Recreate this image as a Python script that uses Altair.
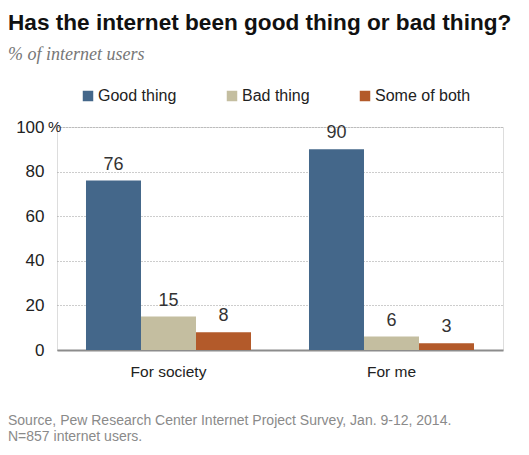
import altair as alt
import pandas as pd

categories = ["For society", "For me"]
responses = ["Good thing", "Bad thing", "Some of both"]
good_vals = [76, 90]
bad_vals = [15, 6]
both_vals = [8, 3]
colors = ["#44678a", "#c4bea0", "#b35a2a"]

title_text = "Has the internet been good thing or bad thing?"
subtitle_text = "% of internet users"
source_lines = ["Source, Pew Research Center Internet Project Survey, Jan. 9-12, 2014.",
                "N=857 internet users."]

rows = []
for i, c in enumerate(categories):
    for r, vals in zip(responses, [good_vals, bad_vals, both_vals]):
        rows.append({"category": c, "response": r, "value": vals[i]})
df = pd.DataFrame(rows)

W, H = 446, 223

x = alt.X("category:N", sort=categories, title=None,
          scale=alt.Scale(paddingInner=0, paddingOuter=0),
          axis=alt.Axis(labelAngle=0, labelFontSize=15.5, labelColor="#222",
                        labelFont="Liberation Sans", labelPadding=14, ticks=False,
                        domainColor="#8c8c8c", domainWidth=2, grid=False))
xo = alt.XOffset("response:N", sort=responses,
                 scale=alt.Scale(paddingInner=0, paddingOuter=0.527))
y = alt.Y("value:Q", title=None,
          scale=alt.Scale(domain=[0, 100]),
          axis=alt.Axis(values=[0, 20, 40, 60, 80, 100], labelFontSize=17,
                        labelColor="#222", labelFont="Liberation Sans",
                        labelPadding=13, ticks=False, domain=False,
                        gridDash=[1, 2], gridColor="#9a9a9a", gridWidth=1,
                        labelExpr="datum.value == 100 ? '100' : datum.label"))

bars = alt.Chart(df).mark_bar(size=55).encode(
    x=x, xOffset=xo, y=y,
    color=alt.Color("response:N", sort=responses,
                    scale=alt.Scale(domain=responses, range=colors),
                    legend=alt.Legend(title=None, orient="none", direction="horizontal",
                                      legendX=23, legendY=-39, symbolType="square",
                                      symbolSize=110, symbolStrokeWidth=0,
                                      labelFontSize=16, labelColor="#222",
                                      labelFont="Liberation Sans", columnPadding=47,
                                      symbolOffset=0, labelOffset=2)),
)

labels = alt.Chart(df).mark_text(baseline="alphabetic", dy=-11, fontSize=18,
                                 color="#333", font="Liberation Sans").encode(
    x=alt.X("category:N", sort=categories), xOffset=alt.XOffset("response:N", sort=responses),
    y="value:Q", text="value:Q")

pct = alt.Chart(pd.DataFrame({"v": [100]})).mark_text(
    align="left", baseline="middle", fontSize=15, color="#222", font="Liberation Sans").encode(
    x=alt.value(-9), y="v:Q", text=alt.value("%"))

one = pd.DataFrame({"a": [0]})
title = alt.Chart(one).mark_text(align="left", baseline="alphabetic", fontSize=22.6,
                                 fontWeight="bold", font="Liberation Sans", color="#111").encode(
    x=alt.value(-49), y=alt.value(-97), text=alt.value(title_text))
subtitle = alt.Chart(one).mark_text(align="left", baseline="alphabetic", fontSize=18,
                                    fontStyle="italic", font="Liberation Serif", color="#777").encode(
    x=alt.value(-49), y=alt.value(-67), text=alt.value(subtitle_text))
src1 = alt.Chart(one).mark_text(align="left", baseline="alphabetic", fontSize=14,
                                font="Liberation Sans", color="#8a8a8a").encode(
    x=alt.value(-49), y=alt.value(298), text=alt.value(source_lines[0]))
src2 = alt.Chart(one).mark_text(align="left", baseline="alphabetic", fontSize=14,
                                font="Liberation Sans", color="#8a8a8a").encode(
    x=alt.value(-49), y=alt.value(314), text=alt.value(source_lines[1]))

chart = alt.layer(bars, labels, pct, title, subtitle, src1, src2).properties(
    width=W, height=H,
    autosize=alt.AutoSizeParams(type="none"),
    padding={"left": 49, "top": 119, "right": 18, "bottom": 97},
).configure_view(stroke=None).configure(background="white")

chart.save("out.html", embed_options={"renderer": "svg", "actions": False})
